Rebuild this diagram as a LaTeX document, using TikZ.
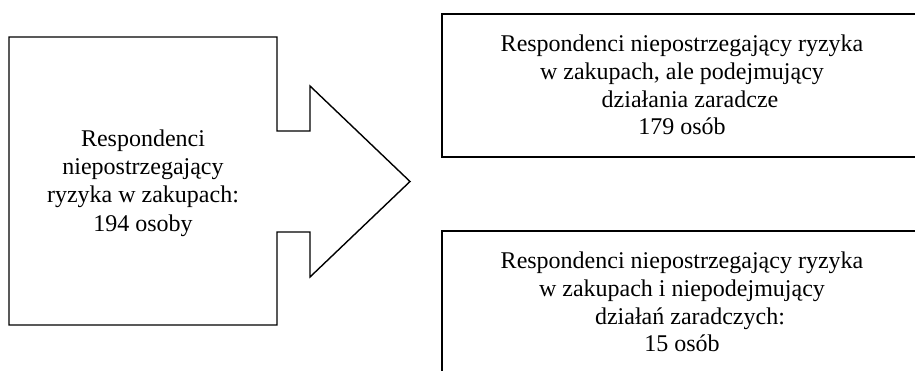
\documentclass[tikz,border=0pt]{standalone}
\usepackage{fontspec}
\setmainfont{Liberation Serif}
\usetikzlibrary{positioning}
\tikzset{
  arrow outline/.style={draw,line width=0.7pt,line join=miter},
  label text/.style={align=center,font=\fontsize{12}{14.2}\selectfont,inner sep=0pt},
  result box/.style={draw,line width=1pt,align=center,
    font=\fontsize{12}{13.8}\selectfont,
    minimum width=240pt,minimum height=71.5pt,inner sep=0pt},
}

\begin{document}
\begin{tikzpicture}[x=0.5pt,y=-0.5pt]
\useasboundingbox (0,0) rectangle (915,370);
\clip (0,0) rectangle (915,370);
\draw[arrow outline] (9,37) -- (277,37) -- (277,131) -- (310,131) -- (310,86)
  -- (410,181.5) -- (310,277) -- (310,232) -- (277,232) -- (277,325)
  -- (9,325) -- cycle;
\node[label text] (source) at (143,183)
  {Respondenci\\niepostrzegający\\ryzyka w zakupach:\\194 osoby};
\node[result box] (acting) at (682,85)
  {Respondenci niepostrzegający ryzyka\\w zakupach, ale podejmujący\ \\
   \hspace{8pt}działania zaradcze\\179 osób};
\node[result box,below=36pt of acting] (passive)
  {Respondenci niepostrzegający ryzyka\\w zakupach i niepodejmujący\ \\
   \hspace{8pt}działań zaradczych:\\15 osób};
\end{tikzpicture}
\end{document}
